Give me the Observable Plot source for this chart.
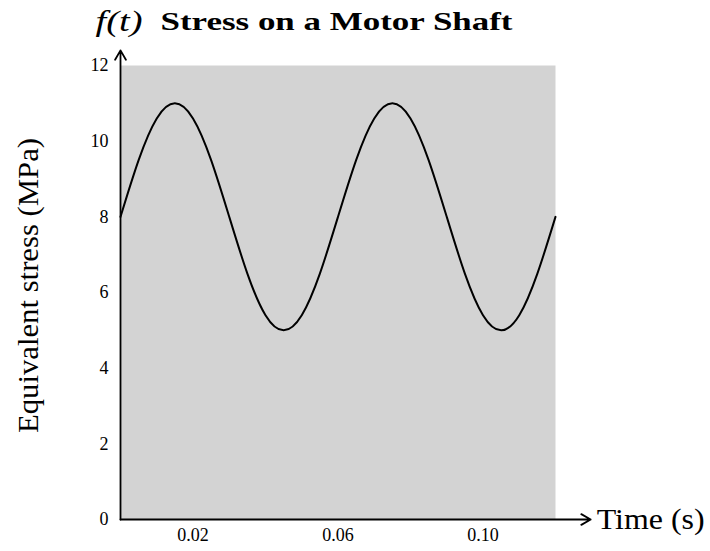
<!DOCTYPE html>
<html>
<head>
<meta charset="utf-8">
<script src="https://cdn.jsdelivr.net/npm/d3@7"></script>
<script src="https://cdn.jsdelivr.net/npm/@observablehq/plot@0.6"></script>
<style>
  html, body { margin: 0; padding: 0; background: #fff; }
  #chart svg { display: block; }
</style>
</head>
<body>
<div id="chart"></div>
<script>
// Readings from the picture
const time = [0, 0.005, 0.01, 0.015, 0.02, 0.025, 0.03, 0.035, 0.04, 0.045, 0.05, 0.055, 0.06,
              0.065, 0.07, 0.075, 0.08, 0.085, 0.09, 0.095, 0.1, 0.105, 0.11, 0.115, 0.12];
const stress = [8, 9.5, 10.6, 11, 10.6, 9.5, 8, 6.5, 5.4, 5, 5.4, 6.5, 8,
                9.5, 10.6, 11, 10.6, 9.5, 8, 6.5, 5.4, 5, 5.4, 6.5, 8];
const xTicks = [0.02, 0.06, 0.10];
const yTicks = [0, 2, 4, 6, 8, 10, 12];
const xDomain = [0, 0.12];
const yDomain = [0, 12];
const xAxisEnd = 0.1297;
const yAxisEnd = 12.4;
const titleText = "Stress on a Motor Shaft";
const fnText = "f(t)";
const xLabel = "Time (s)";
const yLabel = "Equivalent stress (MPa)";

const data = time.map((t, i) => ({t, s: stress[i]}));
const font = "'Liberation Serif', 'Times New Roman', serif";

const chart = Plot.plot({
  width: 710,
  height: 551,
  marginLeft: 120,
  marginRight: 155,
  marginTop: 65,
  marginBottom: 32,
  style: {fontFamily: font, fontSize: "18px", color: "#000", background: "#fff", overflow: "visible"},
  x: {domain: xDomain, ticks: xTicks, tickFormat: d3.format(".2f"), tickSize: 0, tickPadding: 9, label: null},
  y: {domain: yDomain, ticks: yTicks, tickFormat: d => String(d), tickSize: 0, tickPadding: 12, label: null},
  marks: [
    Plot.frame({fill: "#d3d3d3", stroke: null}),
    Plot.axisX({ticks: xTicks, tickFormat: d3.format(".2f"), tickSize: 0, tickPadding: 9, fontSize: 18, label: null}),
    Plot.axisY({ticks: yTicks, tickSize: 0, tickPadding: 12, fontSize: 18, label: null}),
    Plot.line(data, {x: "t", y: "s", curve: "natural", stroke: "#000", strokeWidth: 2}),
    Plot.arrow([{x1: xDomain[0], y1: 0, x2: xAxisEnd, y2: 0}], {x1: "x1", y1: "y1", x2: "x2", y2: "y2", stroke: "#000", strokeWidth: 1.8, headLength: 9, clip: false}),
    Plot.arrow([{x1: xDomain[0], y1: 0, x2: xDomain[0], y2: yAxisEnd}], {x1: "x1", y1: "y1", x2: "x2", y2: "y2", stroke: "#000", strokeWidth: 1.8, headLength: 9, clip: false}),
    Plot.text([xLabel], {x: xAxisEnd, y: 0, text: d => d, textAnchor: "start", dx: 6, dy: 0, fontSize: 30, lineAnchor: "middle", clip: false}),
    Plot.text([yLabel], {frameAnchor: "left", text: d => d, rotate: -90, textAnchor: "middle", lineAnchor: "middle", dx: -92, dy: -7, fontSize: 30}),
    Plot.text([fnText], {frameAnchor: "top-left", text: d => d, dx: -25, dy: -55, fontSize: 29, fontStyle: "italic", textAnchor: "start", lineAnchor: "top"}),
    Plot.text([titleText], {frameAnchor: "top-left", text: d => d, dx: 40, dy: -54, fontSize: 26, fontWeight: "bold", textAnchor: "start", lineAnchor: "top"})
  ]
});

// stretch texts to the widths of the Computer Modern faces in the reference
d3.select(chart).selectAll("text").each(function() {
  const t = this.textContent;
  const widths = {[titleText]: 352, [yLabel]: 295, [xLabel]: 108, [fnText]: 47};
  if (t in widths) { this.setAttribute("textLength", widths[t]); this.setAttribute("lengthAdjust", "spacingAndGlyphs"); }
});

document.getElementById("chart").appendChild(chart);
</script>
</body>
</html>
